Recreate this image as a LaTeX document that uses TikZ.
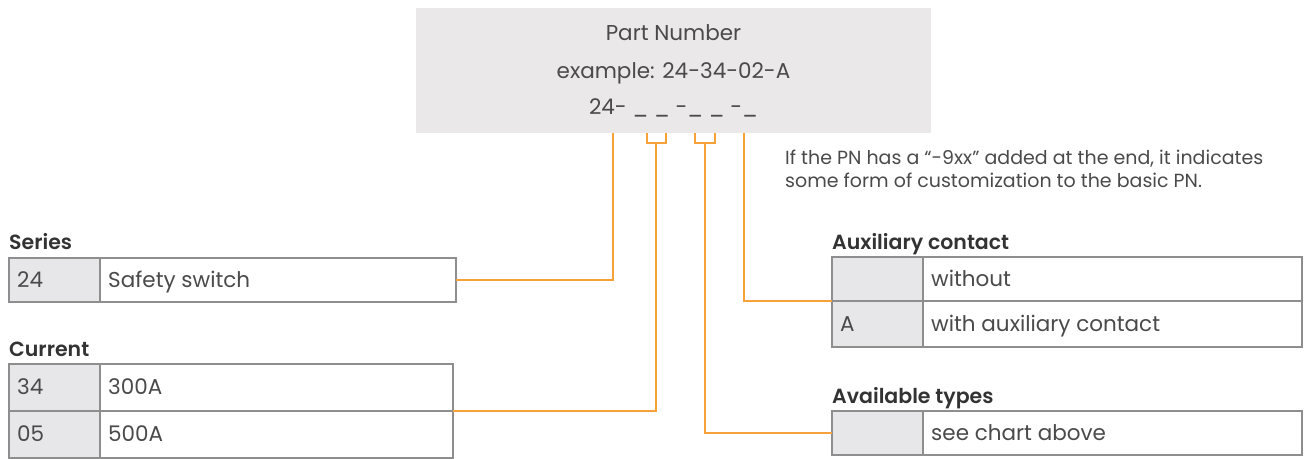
\documentclass[tikz,border=0pt]{standalone}
\usepackage{fontspec}
\setmainfont{Poppins}[BoldFont={Poppins SemiBold}]
\usetikzlibrary{positioning}
\definecolor{boxgray}{HTML}{EAE8E9}
\definecolor{keygray}{HTML}{E7E7E9}
\definecolor{rulegray}{HTML}{8E8E8E}
\definecolor{pnorange}{HTML}{F7A13A}
\definecolor{inkgray}{HTML}{4A4A4A}
\tikzset{
	keycell/.style={draw=rulegray, fill=keygray, line width=1.3pt, minimum width=91pt, anchor=north west, inner sep=0pt, outer sep=0pt},
	desccell/.style={draw=rulegray, fill=white, line width=1.3pt, anchor=north west, inner sep=0pt, outer sep=0pt},
	celltext/.style={anchor=west, text=inkgray, font=\fontsize{21.5}{25}\selectfont, text height=14.5pt, text depth=0pt, inner sep=0pt},
	heading/.style={anchor=west, text=black!80, font=\fontsize{20.5}{24}\selectfont\bfseries, text height=14.5pt, text depth=0pt, inner sep=0pt},
	boxtext/.style={text=inkgray, font=\fontsize{21.5}{25}\selectfont, text height=15pt, text depth=0pt, inner sep=0pt},
	notetext/.style={anchor=west, text=inkgray, font=\fontsize{19}{22}\selectfont, text height=13pt, text depth=0pt, inner sep=0pt},
	link/.style={draw=pnorange, line width=1.3pt},
}
% name, x, y, width of text cell, height, key, description
\newcommand{\pnrow}[7]{%
	\node[keycell, minimum height=#5pt] (#1key) at (#2,#3) {};
	\node[desccell, minimum height=#5pt, minimum width=#4pt] (#1desc) at (#1key.north east) {};
	\node[celltext] at ([xshift=8pt]#1key.west) {#6};
	\node[celltext] at ([xshift=8pt]#1desc.west) {#7};
}

\begin{document}
\begin{tikzpicture}[x=1pt, y=-1pt]
	\useasboundingbox (0,0) rectangle (1304,458);

	% part number box
	\node[fill=boxgray, minimum width=515pt, minimum height=125pt, anchor=north west, inner sep=0pt] (pnbox) at (416,8) {};
	\node[boxtext] (pntitle) at (673.5,33) {Part Number};
	\node[boxtext] (pnexample) at (673.5,71) {example: 24-34-02-A};
	\node[boxtext] (pnpattern) at (673.5,107) {24- \_ \_ -\_ \_ -\_};

	\node[notetext] (note1) at (785,158) {If the PN has a “-9xx” added at the end, it indicates};
	\node[notetext] (note2) at (785,181) {some form of customization to the basic PN.};

	% tables
	\node[heading] (serieshead) at (9,242) {Series};
	\pnrow{series}{9}{258}{356}{44}{24}{Safety switch}

	\node[heading] (currenthead) at (9,349) {Current};
	\pnrow{curA}{9}{364}{353}{47}{34}{300A}
	\pnrow{curB}{9}{411}{353}{47}{05}{500A}

	\node[heading] (auxhead) at (832,242) {Auxiliary contact};
	\pnrow{auxA}{832}{257}{379}{44}{}{without}
	\pnrow{auxB}{832}{301}{379}{46}{A}{with auxiliary contact}

	\node[heading] (typehead) at (832,396) {Available types};
	\pnrow{type}{832}{411}{379}{44}{}{see chart above}

	% connectors
	\coordinate (seriestop) at (613,133);
	\coordinate (curL) at (647,133);
	\coordinate (curR) at (666,133);
	\coordinate (curM) at (656,143);
	\coordinate (typeL) at (695,133);
	\coordinate (typeR) at (715,133);
	\coordinate (typeM) at (705,143);
	\coordinate (auxtop) at (744,133);

	\draw[link] (seriestop) |- (seriesdesc.east);
	\draw[link] (curL) -- ++(0,10) -| (curR);
	\draw[link] (curM) |- (curAdesc.south east);
	\draw[link] (typeL) -- ++(0,10) -| (typeR);
	\draw[link] (typeM) |- (typekey.west);
	\draw[link] (auxtop) |- (auxAkey.south west);
\end{tikzpicture}
\end{document}
